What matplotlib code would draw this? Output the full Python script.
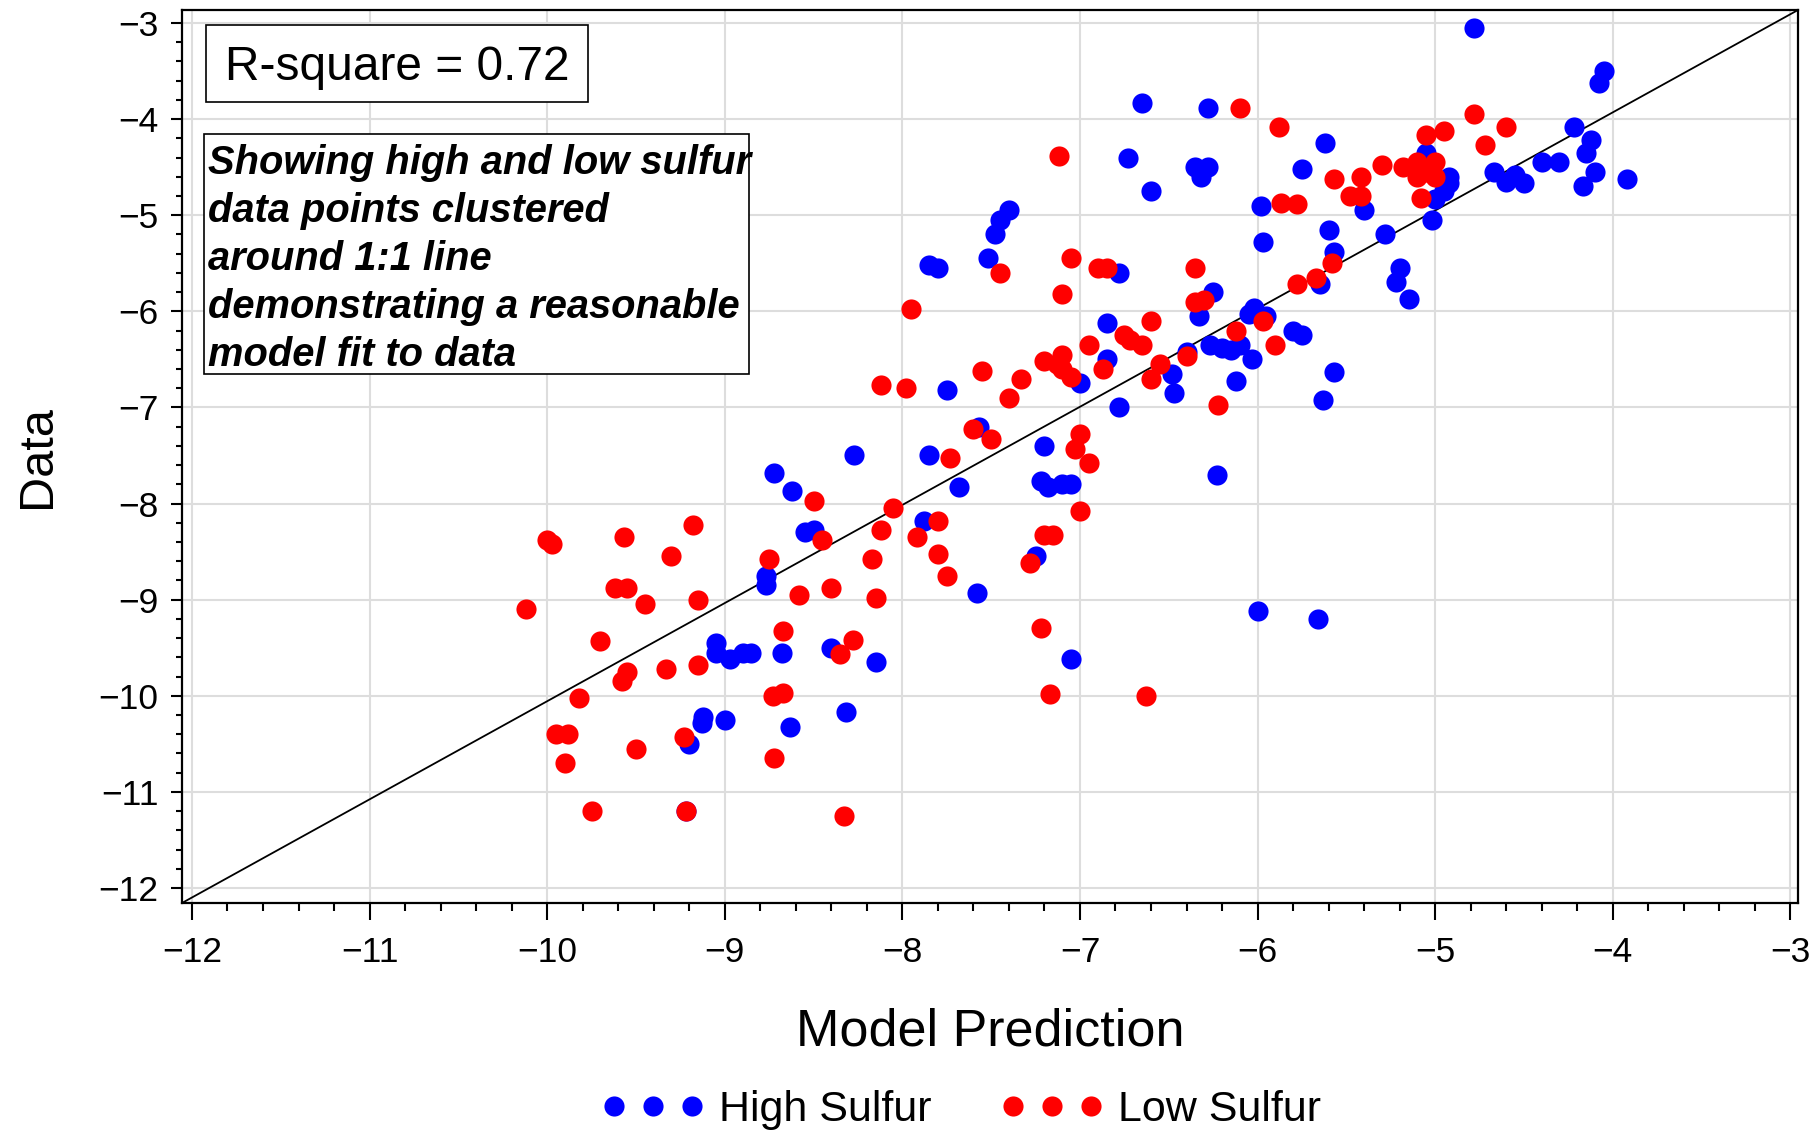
import numpy as np
import matplotlib.pyplot as plt
from matplotlib.patches import Rectangle
from matplotlib.ticker import MultipleLocator

plt.rcParams['font.family'] = ['Liberation Sans', 'DejaVu Sans']

W, H = 1816, 1132  # output size in px

# High sulfur points (model prediction, data)
high_x = [-4.78, -4.05, -4.08, -6.65, -6.28, -6.73, -6.35, -6.28, -6.32, -6.60,
          -5.62, -5.75, -5.98, -5.05, -4.22, -4.12, -4.15, -4.10, -4.17, -3.92,
          -4.30, -4.40, -4.50, -4.55, -4.60, -4.67, -4.92, -4.92, -4.95, -5.00,
          -5.02, -5.40, -5.28, -5.60, -5.57, -5.20, -5.22, -5.15, -5.65, -5.97,
          -6.25, -6.33, -6.02, -6.05, -5.95, -5.80, -5.75, -6.27, -6.20, -6.15,
          -6.10, -6.40, -6.03, -6.12, -6.48, -6.47, -5.57, -5.63, -6.23, -6.00,
          -5.66, -6.85, -6.78, -6.85, -7.00, -6.78, -7.40, -7.45, -7.48, -7.52,
          -7.85, -7.80, -7.75, -7.57, -7.85, -7.68, -7.20, -7.22, -7.18, -7.10,
          -7.05, -7.25, -7.05, -7.58, -7.88, -8.27, -8.72, -8.62, -8.55, -8.50,
          -8.77, -8.77, -8.68, -8.85, -8.90, -8.97, -9.05, -9.05, -8.40, -8.15,
          -9.00, -9.12, -9.13, -8.63, -8.32, -9.20, -9.22]
high_y = [-3.05, -3.50, -3.62, -3.83, -3.88, -4.40, -4.50, -4.50, -4.60, -4.75,
          -4.25, -4.52, -4.90, -4.35, -4.08, -4.22, -4.35, -4.55, -4.70, -4.62,
          -4.45, -4.45, -4.67, -4.58, -4.65, -4.55, -4.60, -4.67, -4.75, -4.83,
          -5.05, -4.95, -5.20, -5.15, -5.38, -5.55, -5.70, -5.87, -5.72, -5.28,
          -5.80, -6.05, -5.97, -6.03, -6.05, -6.20, -6.25, -6.35, -6.38, -6.40,
          -6.35, -6.42, -6.50, -6.72, -6.65, -6.85, -6.63, -6.92, -7.70, -9.12,
          -9.20, -6.12, -5.60, -6.50, -6.75, -7.00, -4.95, -5.05, -5.20, -5.45,
          -5.52, -5.55, -6.82, -7.20, -7.50, -7.83, -7.40, -7.77, -7.83, -7.80,
          -7.80, -8.55, -9.62, -8.93, -8.18, -7.50, -7.68, -7.87, -8.30, -8.28,
          -8.75, -8.85, -9.55, -9.55, -9.55, -9.62, -9.45, -9.55, -9.50, -9.65,
          -10.25, -10.22, -10.28, -10.33, -10.17, -10.50, -11.20]

# Low sulfur points (model prediction, data)
low_x = [-6.10, -5.88, -4.78, -4.60, -4.95, -5.05, -4.72, -5.00, -5.10, -5.18,
         -5.30, -5.05, -5.10, -5.00, -5.42, -5.57, -5.08, -5.48, -5.42, -5.87,
         -5.78, -7.12, -5.58, -5.67, -5.78, -6.35, -6.35, -6.30, -5.97, -6.12,
         -5.90, -6.60, -6.22, -7.05, -6.90, -6.85, -7.10, -7.95, -7.45, -6.75,
         -6.72, -6.65, -6.95, -7.10, -7.20, -7.13, -7.05, -7.10, -6.60, -6.40,
         -6.55, -6.87, -7.55, -7.33, -7.40, -8.12, -7.98, -7.60, -7.50, -7.73,
         -7.00, -7.03, -6.95, -7.00, -7.20, -7.15, -7.28, -7.22, -7.17, -6.63,
         -7.80, -7.92, -7.80, -7.75, -8.05, -8.12, -8.17, -8.15, -8.50, -8.45,
         -8.75, -8.58, -8.40, -8.67, -8.28, -8.35, -8.73, -8.67, -8.72, -8.33,
         -9.18, -9.30, -9.57, -9.62, -9.55, -9.45, -9.15, -9.15, -9.33, -9.55,
         -9.58, -9.70, -9.82, -10.00, -9.97, -10.12, -9.95, -9.88, -9.90, -9.50,
         -9.23, -9.75, -9.22]
low_y = [-3.88, -4.08, -3.95, -4.08, -4.12, -4.17, -4.27, -4.45, -4.45, -4.50,
         -4.48, -4.55, -4.60, -4.60, -4.60, -4.62, -4.82, -4.80, -4.80, -4.87,
         -4.88, -4.38, -5.50, -5.65, -5.72, -5.55, -5.90, -5.88, -6.10, -6.20,
         -6.35, -6.10, -6.97, -5.45, -5.55, -5.55, -5.82, -5.98, -5.60, -6.25,
         -6.30, -6.35, -6.35, -6.45, -6.52, -6.55, -6.68, -6.60, -6.70, -6.47,
         -6.55, -6.60, -6.62, -6.70, -6.90, -6.77, -6.80, -7.22, -7.33, -7.53,
         -7.28, -7.43, -7.58, -8.08, -8.33, -8.33, -8.62, -9.30, -9.98, -10.00,
         -8.18, -8.35, -8.52, -8.75, -8.05, -8.28, -8.58, -8.98, -7.97, -8.38,
         -8.58, -8.95, -8.88, -9.33, -9.42, -9.57, -10.00, -9.97, -10.65, -11.25,
         -8.22, -8.55, -8.35, -8.88, -8.88, -9.05, -9.00, -9.68, -9.72, -9.75,
         -9.85, -9.43, -10.02, -8.38, -8.42, -9.10, -10.40, -10.40, -10.70, -10.55,
         -10.43, -11.20, -11.20]

note_lines = ["Showing high and low sulfur",
              "data points clustered",
              "around 1:1 line",
              "demonstrating a reasonable",
              "model fit to data"]

fig = plt.figure(figsize=(W / 100, H / 100), dpi=100)
ax = fig.add_axes([182 / W, 1 - 903 / H, (1798 - 182) / W, (903 - 10) / H])

ax.plot(high_x, high_y, 'o', color='#0000ff', ms=14.5, mec='none',
        label='High Sulfur', zorder=3)
ax.plot(low_x, low_y, 'o', color='#ff0000', ms=14.5, mec='none',
        label='Low Sulfur', zorder=3)
# 1:1 line, corner to corner
ax.plot([0, 1], [0, 1], transform=ax.transAxes, color='black', lw=1.3, zorder=2)

ax.set_xlim(-12.056, -2.957)
ax.set_ylim(-12.156, -2.865)
ax.set_xticks(np.arange(-12, -2, 1))
ax.set_yticks(np.arange(-12, -2, 1))
ax.xaxis.set_minor_locator(MultipleLocator(0.2))
ax.yaxis.set_minor_locator(MultipleLocator(0.2))
ax.grid(True, which='major', color='#dddddd', lw=1.5, zorder=0)
ax.set_axisbelow(True)

for s in ax.spines.values():
    s.set_linewidth(1.6)
    s.set_color('black')

ax.tick_params(axis='x', which='major', length=12, width=1.5, pad=12, labelsize=25.5)
ax.tick_params(axis='x', which='minor', length=6, width=1.5)
ax.tick_params(axis='y', which='major', length=8, width=1.5, pad=9, labelsize=25.5)
ax.tick_params(axis='y', which='minor', length=4.5, width=1.5)

ax.set_xlabel('Model Prediction', fontsize=37.5, va='center')
ax.xaxis.set_label_coords(0.5, (903 - 1032) / 893)
ax.set_ylabel('Data', fontsize=35, va='center')
ax.yaxis.set_label_coords((37 - 182) / 1616, 0.5)

# R-square box
fig.add_artist(Rectangle((206 / W, 1 - 102 / H), 382 / W, 77 / H,
                         transform=fig.transFigure, fc='white', ec='black', lw=1.2))
fig.text(397 / W, 1 - 67 / H, 'R-square = 0.72', fontsize=34.5,
         ha='center', va='center')

# note box
fig.add_artist(Rectangle((204 / W, 1 - 374 / H), 545 / W, 240 / H,
                         transform=fig.transFigure, fc='white', ec='black', lw=1.2))
for i, line in enumerate(note_lines):
    fig.text(208 / W, 1 - (174.5 + 47.8 * i) / H, line, fontsize=28.7,
             fontweight='bold', fontstyle='italic', ha='left', va='baseline')

fig.legend(loc='center', bbox_to_anchor=(961 / W, 1 - 1110 / H), ncol=2,
           frameon=False, numpoints=3, handlelength=2.4, handletextpad=0.33,
           columnspacing=1.6, fontsize=31)

fig.savefig('out.png', dpi=100)
